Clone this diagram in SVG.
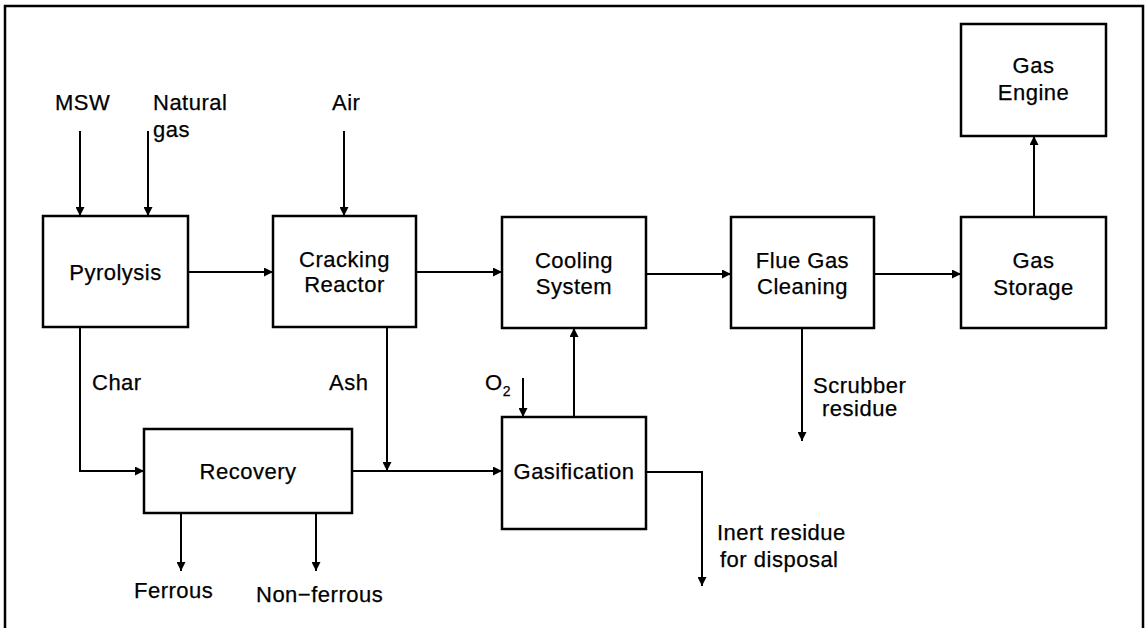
<svg xmlns="http://www.w3.org/2000/svg" width="1148" height="628" viewBox="0 0 1148 628">
<style>
.box{fill:#fff;stroke:#000;stroke-width:2.5}
.ln{fill:none;stroke:#000;stroke-width:2}
.t{font-family:"Liberation Sans",Arial,sans-serif;font-size:22px;letter-spacing:0.5px;fill:#000;stroke:#000;stroke-width:0.25}
.c{text-anchor:middle}
</style>
<defs>
<marker id="ah" viewBox="0 0 10 10" refX="10" refY="5" markerWidth="9" markerHeight="9" markerUnits="userSpaceOnUse" orient="auto">
<path d="M0,0 L10,5 L0,10 z" fill="#000"/>
</marker>
</defs>
<rect width="1148" height="628" fill="#fff"/>
<path d="M5,628 V6 H1143 V628" fill="none" stroke="#000" stroke-width="2.5"/>
<g id="connectors">
<path class="ln" d="M80,131 V216" marker-end="url(#ah)"/>
<path class="ln" d="M148,131 V216" marker-end="url(#ah)"/>
<path class="ln" d="M344,131 V216" marker-end="url(#ah)"/>
<path class="ln" d="M188,272 H273" marker-end="url(#ah)"/>
<path class="ln" d="M416,272 H502" marker-end="url(#ah)"/>
<path class="ln" d="M646,274 H731" marker-end="url(#ah)"/>
<path class="ln" d="M874,274 H961" marker-end="url(#ah)"/>
<path class="ln" d="M1034,217 V136" marker-end="url(#ah)"/>
<path class="ln" d="M80,327 V471 H144" marker-end="url(#ah)"/>
<path class="ln" d="M387,327 V471" marker-end="url(#ah)"/>
<path class="ln" d="M352,471 H502" marker-end="url(#ah)"/>
<path class="ln" d="M181,513 V571" marker-end="url(#ah)"/>
<path class="ln" d="M316,513 V571" marker-end="url(#ah)"/>
<path class="ln" d="M574,417 V328" marker-end="url(#ah)"/>
<path class="ln" d="M523,378 V417" marker-end="url(#ah)"/>
<path class="ln" d="M646,472 H702 V586" marker-end="url(#ah)"/>
<path class="ln" d="M802,328 V441" marker-end="url(#ah)"/>
<text class="t" x="55" y="110">MSW</text>
<text class="t" x="153" y="110">Natural</text>
<text class="t" x="153" y="137">gas</text>
<text class="t" x="332" y="110">Air</text>
<text class="t" x="92" y="390">Char</text>
<text class="t" x="329" y="390">Ash</text>
<text class="t" x="134" y="598">Ferrous</text>
<text class="t" x="256" y="602">Non−ferrous</text>
<text class="t" x="485" y="390">O<tspan font-size="14" dy="6">2</tspan></text>
<text class="t" x="717" y="540">Inert residue</text>
<text class="t" x="720" y="567">for disposal</text>
<text class="t" x="813" y="393">Scrubber</text>
<text class="t" x="822" y="416">residue</text>
</g>
<g id="pyrolysis"><rect class="box" x="43" y="216" width="145" height="111"/><text class="t c" x="115.5" y="280">Pyrolysis</text></g>
<g id="cracking"><rect class="box" x="273" y="216" width="143" height="111"/><text class="t c" x="344.5" y="267">Cracking</text><text class="t c" x="344.5" y="292">Reactor</text></g>
<g id="cooling"><rect class="box" x="502" y="217" width="144" height="111"/><text class="t c" x="574" y="268">Cooling</text><text class="t c" x="574" y="294">System</text></g>
<g id="flue"><rect class="box" x="731" y="217" width="143" height="111"/><text class="t c" x="802.5" y="268">Flue Gas</text><text class="t c" x="802.5" y="294">Cleaning</text></g>
<g id="storage"><rect class="box" x="961" y="217" width="145" height="111"/><text class="t c" x="1033.5" y="268">Gas</text><text class="t c" x="1033.5" y="295">Storage</text></g>
<g id="engine"><rect class="box" x="961" y="24" width="145" height="112"/><text class="t c" x="1033.5" y="73">Gas</text><text class="t c" x="1033.5" y="100">Engine</text></g>
<g id="recovery"><rect class="box" x="144" y="429" width="208" height="84"/><text class="t c" x="248" y="479">Recovery</text></g>
<g id="gasification"><rect class="box" x="502" y="417" width="144" height="112"/><text class="t c" x="574" y="479">Gasification</text></g>
</svg>
